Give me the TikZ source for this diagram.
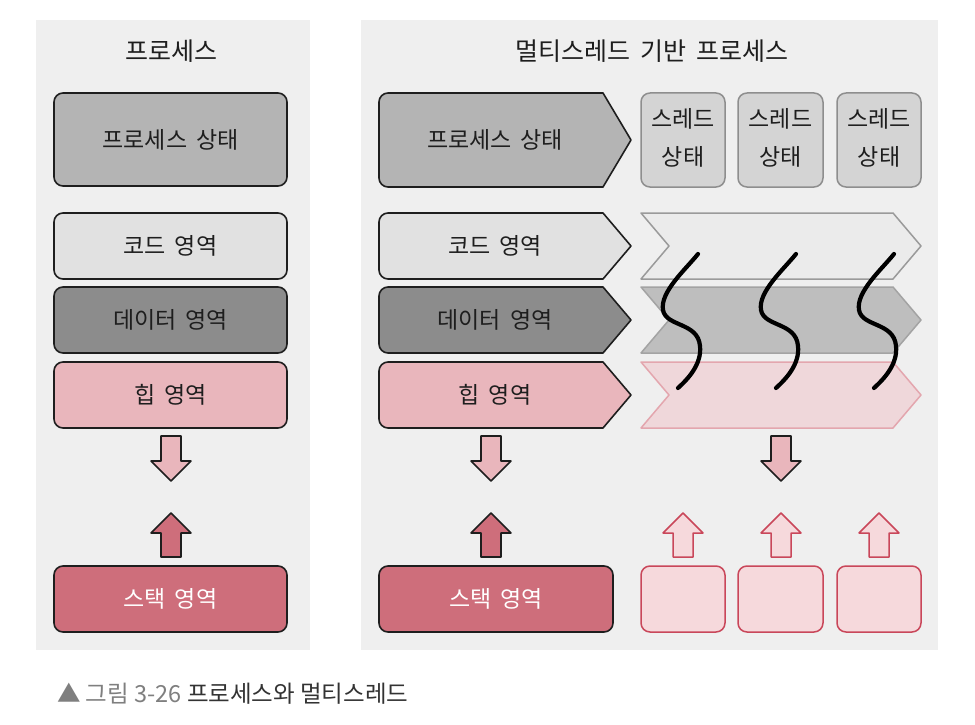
\documentclass[tikz,border=0pt]{standalone}
\usepackage{fontspec}
\setmainfont{Noto Sans CJK KR}
\definecolor{panelbg}{HTML}{EFEFEF}
\definecolor{lineblack}{HTML}{1E1E1E}
\definecolor{txt}{HTML}{1E1E1E}
\definecolor{psgray}{HTML}{B4B4B4}
\definecolor{codegray}{HTML}{E1E1E1}
\definecolor{datagray}{HTML}{8C8C8C}
\definecolor{heappink}{HTML}{E9B6BC}
\definecolor{stackred}{HTML}{CE6E7B}
\definecolor{tsfill}{HTML}{D4D4D4}
\definecolor{tsline}{HTML}{8E8E8E}
\definecolor{bandcode}{HTML}{EBEBEB}
\definecolor{bandcodeline}{HTML}{9A9A9A}
\definecolor{banddata}{HTML}{BEBEBE}
\definecolor{banddataline}{HTML}{A3A3A3}
\definecolor{bandheap}{HTML}{EFD7DA}
\definecolor{bandheapline}{HTML}{E3A6AE}
\definecolor{lightpink}{HTML}{F6D9DC}
\definecolor{pinkline}{HTML}{C9475A}
\definecolor{capgray}{HTML}{7F7F7F}
\definecolor{capdark}{HTML}{333333}
\newcommand\chevronbox[5]{\draw[#5] ({#3-28},#2) [rounded corners=9pt] -- (#1,#2) -- (#1,#4) [sharp corners] -- ({#3-28},#4) -- (#3,{(#2+#4)/2}) -- cycle;}
\newcommand\bandshape[3]{\draw[#3] (641,#1) -- (893,#1) -- (921,{(#1+#2)/2}) -- (893,#2) -- (641,#2) -- (669,{(#1+#2)/2}) -- cycle;}
\newcommand\downblock[2]{\draw[#2] ({#1-10},436) -- ({#1+10},436) -- ({#1+10},461) -- ({#1+20},461) -- (#1,481) -- ({#1-20},461) -- ({#1-10},461) -- cycle;}
\newcommand\upblock[2]{\draw[#2] ({#1-10},557) -- ({#1+10},557) -- ({#1+10},533) -- ({#1+20},533) -- (#1,513) -- ({#1-20},533) -- ({#1-10},533) -- cycle;}
\begin{document}
\begin{tikzpicture}[x=1pt,y=-1pt,line join=round,
  box/.style={draw=lineblack,line width=1.6pt,rounded corners=9pt},
  shape1/.style={draw=lineblack,line width=1.6pt},
  lbl/.style={font=\fontsize{23}{27}\selectfont,text=txt,inner sep=0pt},
  ttl/.style={font=\fontsize{25}{29}\selectfont,text=txt,inner sep=0pt},
  tsbox/.style={draw=tsline,fill=tsfill,line width=1.5pt,rounded corners=9pt},
  pinkbox/.style={draw=pinkline,fill=lightpink,line width=1.5pt,rounded corners=9pt},
  squig/.style={draw=black,line width=4.2pt,line cap=round}]
\useasboundingbox (0,0) rectangle (975,725);
\fill[white] (0,0) rectangle (975,725);
\fill[panelbg] (36,20) rectangle (310,650);
\fill[panelbg] (361,20) rectangle (938,650);
% titles
\node[ttl] (titleL) at (171,51) {프로세스};
\node[ttl] (titleR) at (652,51) {멀티스레드\, 기반\, 프로세스};
% left column
\draw[box,fill=psgray] (54,93) rectangle (287,186);
\node[lbl] (lps) at (170.5,139.5) {프로세스\, 상태};
\draw[box,fill=codegray] (54,213) rectangle (287,279);
\node[lbl] (lcode) at (170.5,246) {코드\, 영역};
\draw[box,fill=datagray] (54,287) rectangle (287,353);
\node[lbl] (ldata) at (170.5,320) {데이터\, 영역};
\draw[box,fill=heappink] (54,362) rectangle (287,428);
\node[lbl] (lheap) at (170.5,395) {힙\, 영역};
\downblock{171}{shape1,fill=heappink}
\upblock{171}{shape1,fill=stackred}
\draw[box,fill=stackred] (54,566) rectangle (287,632);
\node[lbl,text=white] (lstack) at (170.5,599) {스택\, 영역};
% right column chevrons
\chevronbox{379}{93}{631}{187}{shape1,fill=psgray}
\node[lbl] (rps) at (495,140) {프로세스\, 상태};
\chevronbox{379}{213}{631}{279}{shape1,fill=codegray}
\node[lbl] (rcode) at (495,246) {코드\, 영역};
\chevronbox{379}{287}{631}{353}{shape1,fill=datagray}
\node[lbl] (rdata) at (495,320) {데이터\, 영역};
\chevronbox{379}{362}{631}{428}{shape1,fill=heappink}
\node[lbl] (rheap) at (495,395) {힙\, 영역};
% thread state boxes
\draw[tsbox] (641,93) rectangle (725,187);
\draw[tsbox] (738,93) rectangle (823,187);
\draw[tsbox] (837,93) rectangle (921,187);
\node[lbl,align=center,font=\fontsize{23}{38}\selectfont] (ts1) at (683,138) {스레드\\상태};
\node[lbl,align=center,font=\fontsize{23}{38}\selectfont] (ts2) at (780.5,138) {스레드\\상태};
\node[lbl,align=center,font=\fontsize{23}{38}\selectfont] (ts3) at (879,138) {스레드\\상태};
% bands
\bandshape{213}{279}{draw=bandcodeline,fill=bandcode,line width=1.5pt}
\bandshape{287}{353}{draw=banddataline,fill=banddata,line width=1.5pt}
\bandshape{362}{428}{draw=bandheapline,fill=bandheap,line width=1.5pt}
% squiggles (threads)
\foreach \x in {683,781,879}{
  \draw[squig] ({\x+15},254) .. controls ({\x+2},270) and ({\x-23},292) .. ({\x-20},310)
    .. controls ({\x-17},327) and ({\x+15},322) .. ({\x+17},346)
    .. controls ({\x+19},364) and ({\x+5},379) .. ({\x-5},388);
}
% right arrows
\downblock{491}{shape1,fill=heappink}
\upblock{491}{shape1,fill=stackred}
\downblock{781}{shape1,fill=heappink}
\upblock{683}{draw=pinkline,line width=1.5pt,fill=lightpink}
\upblock{781}{draw=pinkline,line width=1.5pt,fill=lightpink}
\upblock{879}{draw=pinkline,line width=1.5pt,fill=lightpink}
% bottom row
\draw[box,fill=stackred] (379,566) rectangle (613,632);
\node[lbl,text=white] (rstack) at (496,599) {스택\, 영역};
\draw[pinkbox] (641,566) rectangle (725,632);
\draw[pinkbox] (738,566) rectangle (823,632);
\draw[pinkbox] (837,566) rectangle (921,632);
% caption
\node[anchor=west,inner sep=0pt,font=\fontsize{23.5}{27}\selectfont] (cap) at (57,694) {\textcolor{capgray}{▲ 그림 3-26} \textcolor{capdark}{프로세스와 멀티스레드}};
\end{tikzpicture}
\end{document}
